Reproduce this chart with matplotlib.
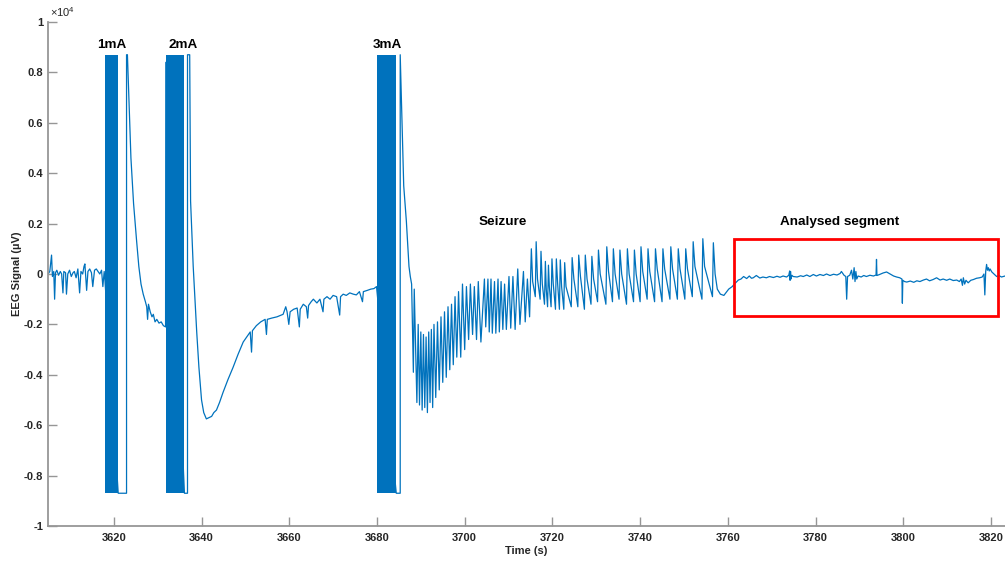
import numpy as np

import matplotlib
matplotlib.use('Agg')
import matplotlib.pyplot as plt
from matplotlib.patches import Rectangle

line_col = '#0072BD'
axis_col = '#969696'
text_col = '#262626'

plt.rcParams['font.family'] = ['Liberation Sans', 'DejaVu Sans']
plt.rcParams['mathtext.default'] = 'regular'

# EEG values are in units of 1e4 uV (as on the y axis), time in s

# stimulation trains (saturated, drawn as solid blocks)
stim_on = [3618.1, 3631.9, 3680.0]
stim_off = [3621.0, 3636.1, 3684.4]
stim_clip = 0.87
stim_labels = ['1mA', '2mA', '3mA']
stim_label_t = [3619.5, 3635.9, 3682.4]

# baseline before the first train
pre = [(3605.0, 0.0), (3605.4, 0.01), (3605.8, 0.075), (3606.0, -0.01), (3606.3, 0.01),
       (3606.5, -0.10), (3606.7, 0.005), (3607.0, 0.015), (3607.4, -0.005), (3607.8, 0.01),
       (3608.1, 0.0), (3608.4, -0.075), (3608.6, 0.01), (3609.0, 0.005), (3609.2, -0.08),
       (3609.5, 0.0), (3609.9, 0.015), (3610.3, -0.01), (3610.7, 0.005), (3611.0, 0.01),
       (3611.4, -0.015), (3611.8, 0.02), (3612.2, -0.075), (3612.5, 0.01), (3612.9, 0.0),
       (3613.2, 0.03), (3613.4, 0.04), (3613.8, -0.065), (3614.1, 0.01), (3614.5, 0.02),
       (3614.9, 0.005), (3615.2, -0.05), (3615.6, 0.015), (3616.0, 0.02), (3616.4, 0.01),
       (3616.8, 0.0), (3617.2, 0.015), (3617.5, -0.05), (3617.8, 0.01), (3618.0, -0.03)]

# recovery after 1 mA
post_1ma = [(3621.0, -0.87), (3622.9, -0.87), (3622.9, 0.87), (3623.1, 0.87), (3623.5, 0.66),
            (3623.9, 0.46), (3624.5, 0.28), (3625.2, 0.13), (3625.7, 0.03), (3626.2, -0.04),
            (3626.7, -0.08), (3627.2, -0.11), (3627.5, -0.13), (3627.7, -0.18), (3627.9, -0.12),
            (3628.3, -0.15), (3628.7, -0.17), (3629.0, -0.16), (3629.4, -0.19), (3629.8, -0.18),
            (3630.3, -0.195), (3630.8, -0.19), (3631.3, -0.205), (3631.8, -0.21), (3631.85, 0.84)]

# recovery after 2 mA
post_2ma = [(3636.1, -0.87), (3636.8, -0.87), (3636.8, 0.87), (3637.3, 0.87), (3637.5, 0.29),
            (3638.1, 0.03), (3638.5, -0.10), (3638.9, -0.23), (3639.4, -0.37), (3640.0, -0.50),
            (3640.5, -0.55), (3641.1, -0.575), (3641.7, -0.57), (3642.3, -0.565), (3642.8, -0.55),
            (3643.4, -0.54), (3644.1, -0.51), (3644.9, -0.47), (3646.0, -0.42), (3647.2, -0.37),
            (3648.3, -0.32), (3649.5, -0.27), (3650.5, -0.245), (3651.1, -0.23), (3651.4, -0.31),
            (3651.6, -0.225), (3652.5, -0.205), (3653.5, -0.19), (3654.5, -0.18), (3654.8, -0.24),
            (3655.0, -0.18), (3656.0, -0.175), (3657.2, -0.17), (3658.6, -0.16), (3659.2, -0.13),
            (3659.5, -0.15), (3659.9, -0.20), (3660.2, -0.15), (3661.0, -0.14), (3661.8, -0.135),
            (3662.3, -0.21), (3662.5, -0.14), (3663.2, -0.12), (3663.9, -0.13), (3664.2, -0.175),
            (3664.4, -0.125), (3665.0, -0.11), (3665.5, -0.10), (3666.3, -0.115), (3667.0, -0.10),
            (3667.7, -0.15), (3667.9, -0.10), (3668.6, -0.09), (3669.3, -0.10), (3670.0, -0.085),
            (3670.8, -0.09), (3671.5, -0.163), (3671.7, -0.09), (3672.3, -0.08), (3673.0, -0.085),
            (3673.8, -0.075), (3674.6, -0.08), (3675.3, -0.083), (3676.0, -0.07), (3676.7, -0.11),
            (3676.9, -0.07), (3677.8, -0.065), (3678.6, -0.06), (3679.3, -0.058), (3679.9, -0.05)]

# recovery after 3 mA, just before the seizure
post_3ma = [(3684.4, -0.87), (3685.3, -0.87), (3685.3, 0.87), (3685.8, 0.55), (3686.1, 0.35),
            (3686.7, 0.21), (3687.0, 0.12), (3687.3, 0.03), (3687.6, -0.01), (3687.9, -0.04)]

# seizure, early phase
early_trough_t = [3688.3, 3689.1, 3689.7, 3690.3, 3690.9, 3691.5, 3692.1, 3692.7, 3693.4, 3694.2,
                  3695.0, 3695.8, 3696.6, 3697.4, 3698.2, 3699.1, 3700.0, 3700.9, 3701.8, 3702.7,
                  3703.7]
early_trough_v = [-0.39, -0.51, -0.52, -0.54, -0.53, -0.55, -0.51, -0.53, -0.49, -0.46,
                  -0.43, -0.41, -0.38, -0.36, -0.33, -0.33, -0.30, -0.26, -0.24, -0.26,
                  -0.27]
early_peak_t = [3688.5, 3689.4, 3690.0, 3690.6, 3691.2, 3691.8, 3692.4, 3693.0, 3693.8, 3694.6,
                3695.4, 3696.2, 3697.0, 3697.8, 3698.6, 3699.5, 3700.4, 3701.3, 3702.2, 3703.1]
early_peak_v = [-0.06, -0.20, -0.23, -0.24, -0.25, -0.23, -0.22, -0.20, -0.19, -0.17,
                -0.15, -0.13, -0.12, -0.09, -0.07, -0.04, -0.05, -0.04, -0.05, -0.03]

# seizure, middle phase
mid_peak_t = [3704.5, 3705.3, 3706.0, 3706.8, 3707.6, 3708.3, 3709.1, 3710.1, 3711.0, 3712.1,
              3713.4, 3714.3]
mid_peak_v = [-0.02, -0.02, -0.02, -0.03, -0.02, -0.03, -0.04, -0.01, -0.01, 0.02, 0.01, -0.02]
mid_trough_t = [3704.8, 3705.6, 3706.3, 3707.1, 3707.9, 3708.7, 3709.5, 3710.5, 3711.5, 3712.6,
                3713.8, 3714.8]
mid_trough_v = [-0.21, -0.23, -0.235, -0.235, -0.23, -0.22, -0.22, -0.215, -0.22, -0.20,
                -0.19, -0.17]

# seizure, late phase (sharp spike, shoulder, slow decay)
late_peak_t = [3715.2, 3716.3, 3717.4, 3718.4, 3719.1, 3719.9, 3720.9, 3721.8, 3722.8, 3724.5,
               3726.0, 3727.5, 3729.0, 3730.5, 3732.4, 3733.9, 3735.4, 3737.1, 3738.7, 3740.2,
               3741.8, 3743.5, 3745.2, 3747.0, 3748.7, 3750.4, 3752.1, 3754.3, 3756.7]
late_peak_v = [0.10, 0.128, 0.09, 0.05, 0.035, 0.06, 0.06, 0.056, 0.045, 0.065,
               0.075, 0.075, 0.07, 0.095, 0.108, 0.10, 0.095, 0.10, 0.095, 0.108,
               0.10, 0.10, 0.10, 0.108, 0.10, 0.10, 0.128, 0.14, 0.124]
late_shoulder_t = [3715.5, 3716.6, 3717.7, 3718.6, 3719.3, 3720.2, 3721.2, 3722.1, 3723.1, 3724.9,
                   3726.4, 3727.9, 3729.4, 3730.9, 3732.8, 3734.3, 3735.8, 3737.5, 3739.1, 3740.6,
                   3742.2, 3743.9, 3745.6, 3747.4, 3749.1, 3750.8, 3752.5, 3754.7, 3757.1]
late_shoulder_v = [-0.03, -0.02, -0.04, -0.06, -0.05, -0.04, -0.04, -0.05, -0.05, -0.02,
                   -0.01, -0.02, -0.02, 0.0, 0.01, 0.0, 0.0, 0.0, 0.0, 0.01,
                   0.01, 0.02, 0.02, 0.02, 0.02, 0.02, 0.03, 0.03, 0.0]
late_trough_t = [3716.1, 3717.2, 3718.2, 3718.9, 3719.7, 3720.7, 3721.6, 3722.6, 3724.3,
                 3725.8, 3727.3, 3728.8, 3730.3, 3732.2, 3733.7, 3735.2, 3736.9, 3738.5, 3740.0,
                 3741.6, 3743.3, 3745.0, 3746.8, 3748.5, 3750.2, 3751.9, 3754.1, 3756.5]
late_trough_v = [-0.09, -0.10, -0.12, -0.13, -0.13, -0.14, -0.14, -0.14, -0.13,
                 -0.13, -0.14, -0.12, -0.11, -0.12, -0.11, -0.10, -0.12, -0.11, -0.11,
                 -0.10, -0.11, -0.11, -0.10, -0.10, -0.10, -0.09, -0.10, -0.09]

# end of seizure and the analysed segment
post_sz = [(3757.6, -0.06), (3758.3, -0.08), (3759.1, -0.085), (3760.2, -0.06), (3761.0, -0.05),
           (3761.5, -0.04), (3762.4, -0.024), (3763.0, -0.02), (3763.6, -0.01), (3764.3, -0.018),
           (3764.9, -0.008), (3765.4, -0.017), (3765.8, -0.015), (3766.5, -0.006), (3767.3, -0.016),
           (3768.0, -0.012), (3768.8, -0.015), (3769.5, -0.01), (3770.4, -0.014), (3771.2, -0.009),
           (3771.9, -0.013), (3772.6, -0.008), (3773.4, -0.012), (3773.9, -0.005), (3774.1, 0.012),
           (3774.2, -0.025), (3774.3, 0.01), (3774.4, -0.02), (3774.6, -0.005), (3774.9, -0.01),
           (3775.8, -0.012), (3776.6, -0.007), (3777.2, -0.01), (3778.0, -0.004), (3778.7, -0.01),
           (3779.5, -0.002), (3780.2, -0.008), (3781.0, -0.002), (3781.8, -0.006), (3782.5, 0.0),
           (3783.3, -0.006), (3784.1, -0.001), (3784.9, -0.004), (3785.6, 0.002), (3785.9, 0.01),
           (3786.5, -0.005), (3786.9, -0.01), (3787.1, -0.10), (3787.3, -0.01), (3787.8, -0.005),
           (3788.2, 0.015), (3788.5, -0.02), (3788.8, 0.025), (3789.0, -0.03), (3789.2, 0.01),
           (3789.4, -0.02), (3789.7, -0.008), (3790.4, -0.012), (3791.0, -0.006), (3791.6, -0.01),
           (3792.4, -0.005), (3793.2, -0.008), (3793.8, -0.004), (3793.9, 0.058), (3794.0, -0.006),
           (3794.6, -0.002), (3795.4, 0.004), (3796.2, 0.008), (3797.0, 0.0), (3797.8, -0.008),
           (3798.5, -0.012), (3799.2, -0.015), (3799.7, -0.02), (3799.8, -0.116), (3799.9, -0.025),
           (3800.3, -0.03), (3800.8, -0.032), (3801.6, -0.028), (3802.4, -0.033), (3803.1, -0.027),
           (3803.8, -0.03), (3804.6, -0.024), (3805.3, -0.02), (3806.0, -0.027), (3806.8, -0.022),
           (3807.6, -0.015), (3808.4, -0.024), (3809.1, -0.02), (3809.9, -0.025), (3810.6, -0.02),
           (3811.4, -0.026), (3812.2, -0.024), (3812.8, -0.03), (3813.2, -0.02), (3813.5, -0.045),
           (3813.7, -0.015), (3814.0, -0.04), (3814.3, -0.025), (3814.8, -0.035), (3815.4, -0.025),
           (3816.0, -0.022), (3816.7, -0.017), (3817.4, -0.015), (3818.0, -0.012), (3818.4, 0.0),
           (3818.6, -0.083), (3818.8, 0.01), (3819.0, 0.038), (3819.2, 0.015), (3819.4, 0.025),
           (3819.6, 0.012), (3819.8, 0.02), (3820.2, 0.008), (3820.7, 0.0), (3821.3, -0.01),
           (3821.8, -0.006), (3822.4, -0.012), (3823.2, -0.008)]

# analysed segment box (time range, signal range)
seg_t = [3761.4, 3821.6]
seg_v = [-0.167, 0.139]

x_ticks = [3620, 3640, 3660, 3680, 3700, 3720, 3740, 3760, 3780, 3800, 3820]
y_ticks = [-1, -0.8, -0.6, -0.4, -0.2, 0, 0.2, 0.4, 0.6, 0.8, 1]


def seizure_trace():
    # put troughs, peaks and shoulders in time order
    t = np.concatenate([early_trough_t, early_peak_t, mid_peak_t, mid_trough_t,
                        late_peak_t, late_shoulder_t, late_trough_t])
    v = np.concatenate([early_trough_v, early_peak_v, mid_peak_v, mid_trough_v,
                        late_peak_v, late_shoulder_v, late_trough_v])
    order = np.argsort(t, kind='stable')
    return np.column_stack([t[order], v[order]])


def eeg_trace():
    parts = [np.array(pre), np.array(post_1ma), np.array(post_2ma), np.array(post_3ma),
             seizure_trace(), np.array(post_sz)]
    pts = np.vstack(parts)
    return pts[:, 0], pts[:, 1]


def main():
    fig = plt.figure(figsize=(10.05, 5.61), dpi=100)
    ax = fig.add_axes([0.0478, 0.0624, 0.9522, 0.8984])

    t, v = eeg_trace()
    ax.plot(t, v, color=line_col, lw=0.9, zorder=2)

    # saturated stimulation blocks
    widths = np.subtract(stim_off, stim_on)
    ax.bar(stim_on, 2 * stim_clip, width=widths, bottom=-stim_clip, align='edge',
           color=line_col, lw=0, zorder=3)

    # annotations
    for lab, x in zip(stim_labels, stim_label_t):
        ax.text(x, 0.908, lab, ha='center', va='center', fontsize=9.7,
                fontweight='bold', color='black')
    ax.text(3708.7, 0.207, 'Seizure', ha='center', va='center', fontsize=9.7,
            fontweight='bold', color='black')
    ax.text(3785.6, 0.207, 'Analysed segment', ha='center', va='center', fontsize=9.7,
            fontweight='bold', color='black')
    ax.add_patch(Rectangle((seg_t[0], seg_v[0]), seg_t[1] - seg_t[0], seg_v[1] - seg_v[0],
                           fill=False, edgecolor='#ff0000', lw=2.0, zorder=4, clip_on=False))

    # axes in matlab style
    ax.set_xlim(3605, 3823.2)
    ax.set_ylim(-1, 1)
    ax.set_xticks(x_ticks)
    ax.set_yticks(y_ticks)
    ax.set_xticklabels([f'{x}' for x in x_ticks])
    ax.set_yticklabels([f'{y:g}' for y in y_ticks])
    for side in ['top', 'right']:
        ax.spines[side].set_visible(False)
    for side in ['left', 'bottom']:
        ax.spines[side].set_color(axis_col)
        ax.spines[side].set_linewidth(1.3)
    ax.tick_params(direction='in', length=6.5, width=1.0, color=axis_col,
                   labelcolor=text_col, labelsize=8)
    ax.tick_params(axis='x', pad=5)
    ax.tick_params(axis='y', pad=3.5)
    for lab in ax.get_xticklabels() + ax.get_yticklabels():
        lab.set_fontweight('bold')

    ax.set_xlabel('Time (s)', fontsize=8, fontweight='bold', color=text_col, labelpad=2)
    ax.set_ylabel('EEG Signal (µV)', fontsize=8, fontweight='bold', color=text_col, labelpad=1)
    ax.text(0.002, 1.006, r'$\times$10$^{4}$', transform=ax.transAxes, ha='left', va='bottom',
            fontsize=8, color=text_col)

    fig.savefig('out.png', dpi=100)


if __name__ == '__main__':
    main()
